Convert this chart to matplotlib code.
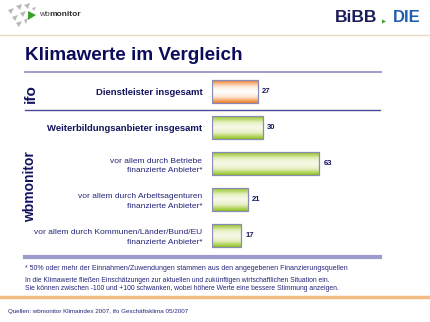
import numpy as np
import matplotlib
matplotlib.use("Agg")
from matplotlib import pyplot as plt
from matplotlib.lines import Line2D
from matplotlib.patches import Polygon
from matplotlib.colors import LinearSegmentedColormap

plt.rcParams["font.family"] = ["Liberation Sans", "DejaVu Sans"]

# data
labels = [
    "Dienstleister insgesamt",
    "Weiterbildungsanbieter insgesamt",
    "vor allem durch Betriebe\nfinanzierte Anbieter*",
    "vor allem durch Arbeitsagenturen\nfinanzierte Anbieter*",
    "vor allem durch Kommunen/Länder/Bund/EU\nfinanzierte Anbieter*",
]
values = [27, 30, 63, 21, 17]
bold_rows = [0, 1]
groups = ["ifo", "wbmonitor"]

title = "Klimawerte im Vergleich"
footnote = "* 50% oder mehr der Einnahmen/Zuwendungen stammen aus den angegebenen Finanzierungsquellen"
note = ("In die Klimawerte fließen Einschätzungen zur aktuellen und zukünftigen wirtschaftlichen Situation ein.\n"
        "Sie können zwischen -100 und +100 schwanken, wobei höhere Werte eine bessere Stimmung anzeigen.")
source = "Quellen: wbmonitor Klimaindex 2007, ifo Geschäftsklima 05/2007"

NAVY = "#14145f"
TEXT = "#24247a"
W, H = 430, 322


def fx(x):
    return x / W


def fy(y):
    return 1 - y / H


def hline(fig, y, x0, x1, color, lw):
    fig.add_artist(Line2D([fx(x0), fx(x1)], [fy(y), fy(y)], color=color, lw=lw,
                          transform=fig.transFigure))


def tri(fig, pts, color):
    fig.add_artist(Polygon([(fx(a), fy(b)) for a, b in pts], closed=True, color=color,
                           lw=0, transform=fig.transFigure))


fig = plt.figure(figsize=(4.3, 3.22), dpi=100)
fig.patch.set_facecolor("white")

# header logos
for t in [
    [(8, 10), (14, 8), (11, 14)], [(16, 6), (22, 4), (20, 10)], [(24, 5), (30, 3), (28, 9)],
    [(12, 17), (18, 15), (15, 21)], [(20, 13), (26, 11), (23, 17)], [(16, 23), (22, 21), (19, 27)],
    [(24, 20), (28, 18), (26, 24)], [(32, 8), (36, 7), (34, 11)],
]:
    tri(fig, t, "#b8b8b8")
tri(fig, [(28, 11), (36, 15), (28, 20)], "#3aa02a")
fig.text(fx(39), fy(15), "wb", fontsize=6, color="#404040", va="center", ha="left")
fig.text(fx(49.3), fy(15), "monitor", fontsize=6, color="#303030", va="center", ha="left",
         fontweight="bold")
fig.text(fx(335), fy(18), "BiBB", fontsize=12.5, color="#1c1c5a", va="center", ha="left",
         fontweight="heavy")
tri(fig, [(382, 19.5), (386, 21.5), (382, 23.5)], "#3aa02a")
fig.text(fx(393), fy(18), "DIE", fontsize=12, color="#1f5fb0", va="center", ha="left",
         fontweight="heavy")
hline(fig, 35, 0, 430, "#e8dcc0", 1.0)

# title
fig.text(fx(25), fy(56), title, fontsize=13.6, fontweight="bold", color="#0c0c5c",
         va="center", ha="left")
hline(fig, 72.5, 25, 381, "#8c8cc0", 1.2)

# bar chart
ax = fig.add_axes([fx(212), fy(256), fx(382) - fx(212), (256 - 75) / H])
row = 35.8
ylo = -(92 - 75) / row
yhi = len(values) - 1 + (256 - 235) / row
bh = 23 / row

t = np.linspace(0, 1, 64)
grad = (np.abs(2 * t - 1) ** 1.4).reshape(-1, 1)
green = LinearSegmentedColormap.from_list("g", ["#f6f9e6", "#e6f0c0", "#b8d86a", "#8cc21c"])
orange = LinearSegmentedColormap.from_list("o", ["#ffffff", "#fde6d4", "#f6b07a", "#ef7a22"])

for i, v in enumerate(values):
    cmap = orange if i == 0 else green
    ax.imshow(grad, extent=(0, v, i + bh / 2, i - bh / 2), aspect="auto", cmap=cmap,
              interpolation="bilinear", zorder=1, vmin=0, vmax=1)
ax.barh(range(len(values)), values, height=bh, fill=False, edgecolor="#8a8ab8", lw=0.9,
        zorder=2)
for i, v in enumerate(values):
    ax.annotate(str(v), (v, i), xytext=(3, 0), textcoords="offset points", fontsize=5.5,
                fontweight="bold", color=NAVY, va="center", ha="left")

ax.set_xlim(0, 100)
ax.set_ylim(yhi, ylo)
ax.set_yticks(range(len(labels)))
ax.set_yticklabels(labels, linespacing=1.55, multialignment="right")
for i, lab in enumerate(ax.get_yticklabels()):
    if i in bold_rows:
        lab.set_fontweight("bold")
        lab.set_fontsize(6.8)
        lab.set_color(NAVY)
    else:
        lab.set_fontsize(6.0)
        lab.set_color(TEXT)
ax.tick_params(axis="y", length=0, pad=7)
ax.set_xticks([])
for s in ax.spines.values():
    s.set_visible(False)
ax.patch.set_alpha(0)

# group labels and separators
fig.text(fx(30.5), fy(94), groups[0], fontsize=11, fontweight="bold", color=NAVY,
         rotation=90, va="center", ha="center")
fig.text(fx(30.5), fy(187), groups[1], fontsize=10, fontweight="bold", color=NAVY,
         rotation=90, va="center", ha="center")
hline(fig, 110, 25, 380, "#4a4a98", 1.0)
hline(fig, 256.5, 25, 380, "#9c9ccc", 3.0)

# notes
fig.text(fx(25), fy(269), footnote, fontsize=5.0, color=TEXT, va="center", ha="left")
fig.text(fx(25), fy(284.5), note, fontsize=4.85, color=TEXT, va="center", ha="left",
         linespacing=1.1)
hline(fig, 297, 0, 430, "#f2bc84", 2.5)
fig.text(fx(8), fy(311), source, fontsize=4.5, color=TEXT, va="center", ha="left")

fig.savefig("out.png", dpi=100)
